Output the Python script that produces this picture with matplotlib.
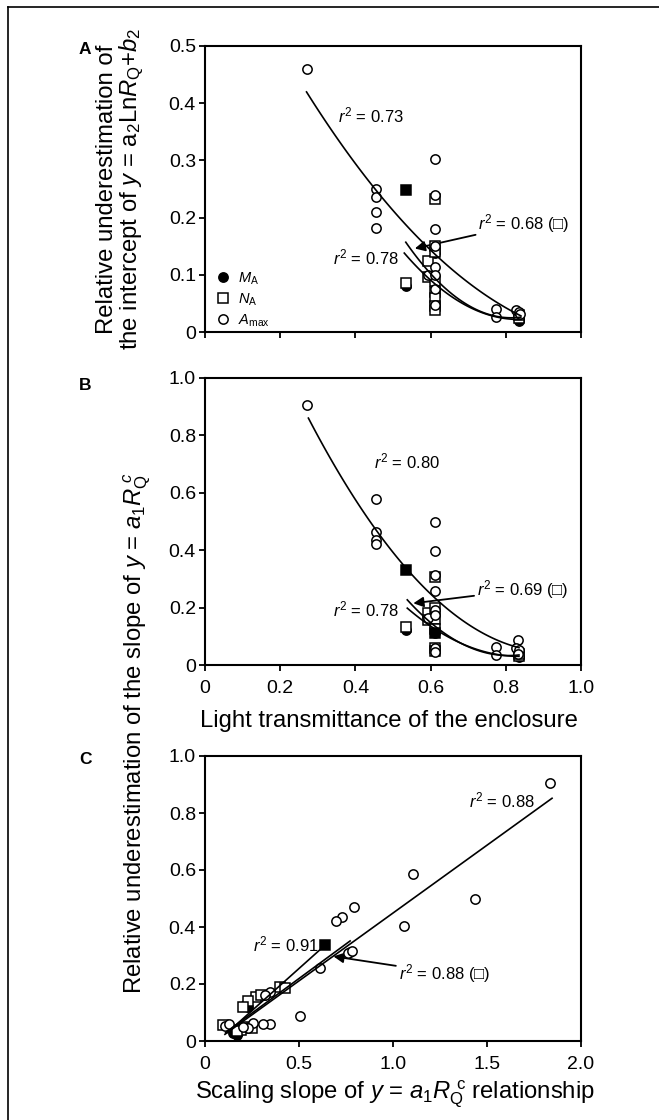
import numpy as np
import matplotlib
matplotlib.use("Agg")
import matplotlib.pyplot as plt
from matplotlib.lines import Line2D

plt.rcParams['font.family'] = ['Liberation Sans', 'DejaVu Sans']
plt.rcParams['mathtext.fontset'] = 'custom'
plt.rcParams['mathtext.rm'] = 'Liberation Sans'
plt.rcParams['mathtext.it'] = 'Liberation Sans:italic'
plt.rcParams['mathtext.bf'] = 'Liberation Sans:bold'

# ---------------- Panel A data (intercept underestimation vs transmittance)
a_amax_x = [0.27, 0.455, 0.455, 0.455, 0.455, 0.592, 0.612, 0.612, 0.612, 0.612, 0.612, 0.612,
            0.612, 0.612, 0.774, 0.774, 0.828, 0.835, 0.838]
a_amax_y = [0.46, 0.25, 0.236, 0.21, 0.182, 0.10, 0.302, 0.239, 0.18, 0.15, 0.114, 0.10,
            0.076, 0.047, 0.041, 0.027, 0.039, 0.035, 0.032]
a_na_x = [0.534, 0.592, 0.592, 0.612, 0.612, 0.612, 0.612, 0.612, 0.612, 0.612, 0.612, 0.835, 0.835]
a_na_y = [0.086, 0.124, 0.096, 0.233, 0.15, 0.14, 0.09, 0.07, 0.06, 0.045, 0.038, 0.025, 0.03]
a_ma_x = [0.534, 0.612, 0.612, 0.835, 0.835]
a_ma_y = [0.081, 0.138, 0.075, 0.02, 0.024]
a_both_x = [0.534]          # coinciding M_A / N_A points (drawn as filled squares)
a_both_y = [0.249]

# quadratic fits y = c0 + c1 x + c2 x^2 and their x-ranges
a_fit_amax = [0.748, -1.386, 0.630]
a_fit_amax_rng = [0.27, 0.84]
a_fit_na = [1.1414, -2.7433, 1.685]
a_fit_na_rng = [0.534, 0.84]
a_fit_ma = [0.8944, -2.0916, 1.2536]
a_fit_ma_rng = [0.53, 0.84]

# ---------------- Panel B data (slope underestimation vs transmittance)
b_amax_x = [0.27, 0.455, 0.455, 0.455, 0.455, 0.592, 0.612, 0.612, 0.612, 0.612, 0.612, 0.612,
            0.612, 0.612, 0.774, 0.774, 0.832, 0.828, 0.835, 0.832]
b_amax_y = [0.907, 0.579, 0.463, 0.436, 0.421, 0.163, 0.50, 0.398, 0.314, 0.258, 0.192, 0.174,
            0.058, 0.047, 0.062, 0.035, 0.087, 0.058, 0.052, 0.040]
b_na_x = [0.534, 0.592, 0.592, 0.612, 0.612, 0.612, 0.612, 0.612, 0.612, 0.835, 0.835]
b_na_y = [0.134, 0.18, 0.157, 0.308, 0.20, 0.16, 0.125, 0.06, 0.05, 0.03, 0.04]
b_ma_x = [0.534, 0.612, 0.835]
b_ma_y = [0.122, 0.11, 0.029]
b_both_x = [0.534, 0.612]
b_both_y = [0.331, 0.11]

b_fit_amax = [1.699, -3.584, 1.942]
b_fit_amax_rng = [0.275, 0.835]
b_fit_na = [1.777, -4.3208, 2.6761]
b_fit_na_rng = [0.538, 0.835]
b_fit_ma = [1.3502, -3.1568, 1.8872]
b_fit_ma_rng = [0.538, 0.835]

# ---------------- Panel C data (slope underestimation vs scaling slope)
c_amax_x = [1.837, 1.106, 1.437, 1.056, 0.79, 0.728, 0.697, 0.771, 0.762, 0.78, 0.612, 0.505,
            0.346, 0.31, 0.257, 0.346, 0.319, 0.106, 0.13, 0.23, 0.2]
c_amax_y = [0.907, 0.585, 0.499, 0.402, 0.469, 0.435, 0.42, 0.313, 0.31, 0.315, 0.255, 0.088,
            0.058, 0.058, 0.064, 0.171, 0.16, 0.053, 0.06, 0.045, 0.05]
c_na_x = [0.399, 0.426, 0.27, 0.23, 0.097, 0.213, 0.248, 0.19, 0.17, 0.30, 0.20]
c_na_y = [0.19, 0.187, 0.155, 0.14, 0.056, 0.05, 0.045, 0.04, 0.035, 0.16, 0.12]
c_ma_x = [0.213, 0.23, 0.15, 0.165, 0.18, 0.17]
c_ma_y = [0.126, 0.118, 0.029, 0.025, 0.035, 0.02]
c_both_x = [0.638]
c_both_y = [0.337]

# linear fits y = c0 + c1 x
c_fit_amax = [-0.027, 0.476]
c_fit_amax_rng = [0.106, 1.846]
c_fit_na = [-0.0233, 0.485]
c_fit_na_rng = [0.11, 0.772]
c_fit_ma = [-0.0409, 0.5905]
c_fit_ma_rng = [0.12, 0.648]

# ---------------- figure
W, H = 659, 1120
fig = plt.figure(figsize=(W / 100, H / 100), dpi=100)


def ax_rect(left, right, top, bottom):
    return [left / W, 1 - bottom / H, (right - left) / W, (bottom - top) / H]


axA = fig.add_axes(ax_rect(205, 581, 46, 332))
axB = fig.add_axes(ax_rect(205, 581, 378, 665))
axC = fig.add_axes(ax_rect(205, 581, 756, 1041))

MS = 6.7
EW = 1.1
TICK_FS = 14
LAB_FS = 17.2
R_FS = 12


def draw_points(ax, ma_x, ma_y, na_x, na_y, amax_x, amax_y, both_x, both_y):
    h1, = ax.plot(ma_x, ma_y, 'o', ms=MS, mfc='black', mec='black', mew=EW, zorder=3)
    h2, = ax.plot(na_x, na_y, 's', ms=MS, mfc='white', mec='black', mew=EW, zorder=4)
    ax.plot(both_x, both_y, 's', ms=MS, mfc='black', mec='black', mew=EW, zorder=4)
    h3, = ax.plot(amax_x, amax_y, 'o', ms=MS, mfc='white', mec='black', mew=EW, zorder=5)
    return h1, h2, h3


def draw_quad(ax, coef, rng):
    xs = np.linspace(rng[0], rng[1], 100)
    ax.plot(xs, np.polyval(coef[::-1], xs), color='black', lw=1.2, zorder=6)


def style(ax, xlim, ylim, xticks, yticks, xticklabels, yticklabels):
    ax.set_xlim(*xlim)
    ax.set_ylim(*ylim)
    ax.set_xticks(xticks)
    ax.set_yticks(yticks)
    ax.set_xticklabels(xticklabels)
    ax.set_yticklabels(yticklabels)
    for s in ax.spines.values():
        s.set_linewidth(1.5)
    ax.tick_params(axis='both', direction='out', length=4, width=1.3, labelsize=TICK_FS)
    ax.tick_params(axis='x', pad=7)
    ax.tick_params(axis='y', pad=2.5)


arrowkw = dict(arrowstyle='-|>', color='black', lw=1.3, mutation_scale=15, shrinkA=0, shrinkB=0)

# Panel A
hA = draw_points(axA, a_ma_x, a_ma_y, a_na_x, a_na_y, a_amax_x, a_amax_y, a_both_x, a_both_y)
draw_quad(axA, a_fit_amax, a_fit_amax_rng)
draw_quad(axA, a_fit_na, a_fit_na_rng)
draw_quad(axA, a_fit_ma, a_fit_ma_rng)
style(axA, (0, 1.0), (0, 0.5), np.arange(0, 1.01, 0.2), np.arange(0, 0.51, 0.1),
      [''] * 6, ['0', '0.1', '0.2', '0.3', '0.4', '0.5'])
axA.text(0.354, 0.379, r'$r^2$ = 0.73', fontsize=R_FS, va='center')
axA.text(0.34, 0.131, r'$r^2$ = 0.78', fontsize=R_FS, va='center')
axA.annotate(r'$r^2$ = 0.68 (□)', xy=(0.558, 0.146), xytext=(0.727, 0.189), fontsize=R_FS,
             va='center', arrowprops=arrowkw)
leg = axA.legend(hA, [r'$M_{\mathrm{A}}$', r'$N_{\mathrm{A}}$', r'$A_{\mathrm{max}}$'],
                 loc='lower left', bbox_to_anchor=(0.005, -0.025), frameon=False, fontsize=10.5,
                 handlelength=0.8, handletextpad=0.6, labelspacing=0.32, borderaxespad=0.3)

# Panel B
draw_points(axB, b_ma_x, b_ma_y, b_na_x, b_na_y, b_amax_x, b_amax_y, b_both_x, b_both_y)
draw_quad(axB, b_fit_amax, b_fit_amax_rng)
draw_quad(axB, b_fit_na, b_fit_na_rng)
draw_quad(axB, b_fit_ma, b_fit_ma_rng)
style(axB, (0, 1.0), (0, 1.0), np.arange(0, 1.01, 0.2), np.arange(0, 1.01, 0.2),
      ['0', '0.2', '0.4', '0.6', '0.8', '1.0'], ['0', '0.2', '0.4', '0.6', '0.8', '1.0'])
axB.text(0.45, 0.709, r'$r^2$ = 0.80', fontsize=R_FS, va='center')
axB.text(0.34, 0.192, r'$r^2$ = 0.78', fontsize=R_FS, va='center')
axB.annotate(r'$r^2$ = 0.69 (□)', xy=(0.554, 0.215), xytext=(0.723, 0.262), fontsize=R_FS,
             va='center', arrowprops=arrowkw)

# Panel C
draw_points(axC, c_ma_x, c_ma_y, c_na_x, c_na_y, c_amax_x, c_amax_y, c_both_x, c_both_y)
for coef, rng in [(c_fit_amax, c_fit_amax_rng), (c_fit_na, c_fit_na_rng), (c_fit_ma, c_fit_ma_rng)]:
    xs = np.array(rng)
    axC.plot(xs, coef[0] + coef[1] * xs, color='black', lw=1.2, zorder=6)
style(axC, (0, 2.0), (0, 1.0), np.arange(0, 2.01, 0.5), np.arange(0, 1.01, 0.2),
      ['0', '0.5', '1.0', '1.5', '2.0'], ['0', '0.2', '0.4', '0.6', '0.8', '1.0'])
axC.text(1.402, 0.845, r'$r^2$ = 0.88', fontsize=R_FS, va='center')
axC.text(0.257, 0.338, r'$r^2$ = 0.91', fontsize=R_FS, va='center', zorder=2)
axC.annotate(r'$r^2$ = 0.88 (□)', xy=(0.683, 0.297), xytext=(1.03, 0.238), fontsize=R_FS,
             va='center', arrowprops=arrowkw)

# axis labels
fig.text(121 / W, 1 - 189 / H,
         'Relative underestimation of\nthe intercept of $y$ = a$_2$Ln$R_{\\mathrm{Q}}$+$b_2$',
         rotation=90, ha='center', va='center', multialignment='center', fontsize=LAB_FS,
         linespacing=1.02)
fig.text(137 / W, 1 - 733 / H,
         'Relative underestimation of the slope of $y$ = $a_1R_{\\mathrm{Q}}^{\\ c}$',
         rotation=90, ha='center', va='center', fontsize=LAB_FS)
fig.text(389 / W, 1 - 721 / H, 'Light transmittance of the enclosure',
         ha='center', va='center', fontsize=LAB_FS)
fig.text(395 / W, 1 - 1094 / H, 'Scaling slope of $y$ = $a_1R_{\\mathrm{Q}}^{\\ \\mathrm{c}}$ relationship',
         ha='center', va='center', fontsize=LAB_FS)

# panel letters
for lab, yp in [('A', 50), ('B', 386), ('C', 760)]:
    fig.text(85 / W, 1 - yp / H, lab, ha='center', va='center', fontsize=12.5, fontweight='bold')

# figure frame (top and left edges)
fig.add_artist(Line2D([8 / W, 1.0], [1 - 7 / H, 1 - 7 / H], transform=fig.transFigure,
                      color='black', lw=1.2))
fig.add_artist(Line2D([8 / W, 8 / W], [1 - 7 / H, 0.0], transform=fig.transFigure,
                      color='black', lw=1.2))

fig.savefig('out.png', dpi=100)
